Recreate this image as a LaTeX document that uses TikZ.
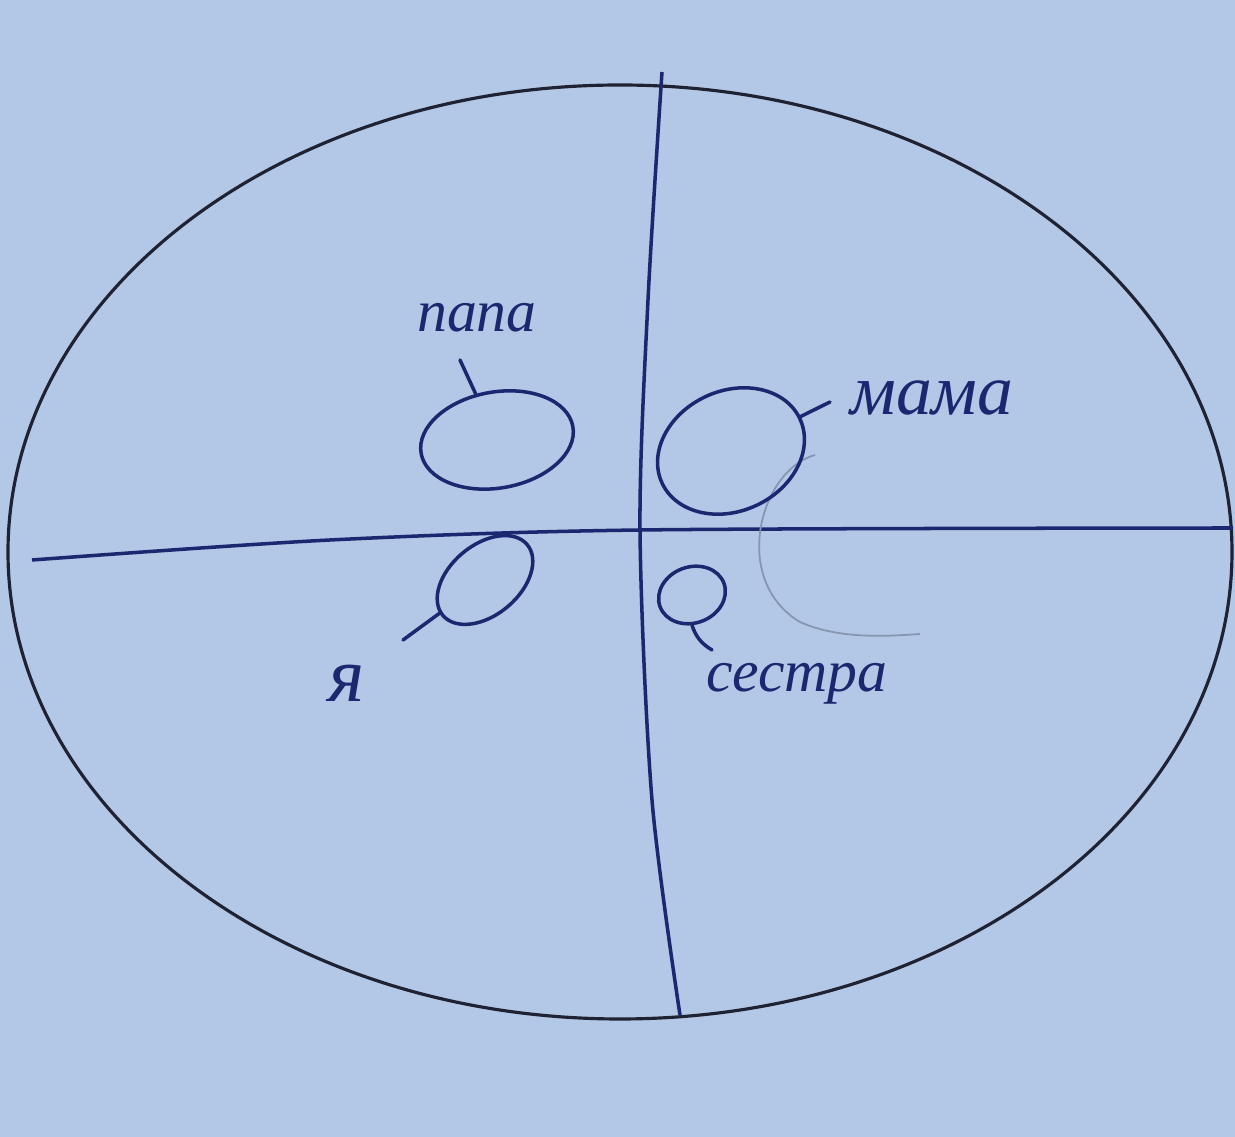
\documentclass[tikz,border=0pt]{standalone}
\usepackage{fontspec}
\setmainfont{Liberation Serif}
\usepackage{xcolor}
\usetikzlibrary{shapes.geometric}
\definecolor{paper}{HTML}{B3C7E6}
\definecolor{ink}{HTML}{1B2870}
\definecolor{pencil}{HTML}{8596B0}
\definecolor{rim}{HTML}{1E2232}
\begin{document}
\begin{tikzpicture}[x=0.01cm,y=-0.01cm,
  ring/.style={draw=ink,line width=1pt,ellipse,inner sep=0pt},
  tick/.style={draw=ink,line width=1pt,line cap=round},
  word/.style={text=ink,font=\itshape\fontsize{17}{19}\selectfont,inner sep=1pt}]
  \useasboundingbox (0,0) rectangle (1235,1137);
  \fill[paper] (0,0) rectangle (1235,1137);
  % the family field
  \draw[rim,line width=0.9pt] (620,552) ellipse [x radius=612,y radius=467];
  \draw[ink,line width=1pt] plot[smooth] coordinates {(662,72) (648,300) (640,530) (652,800) (680,1015)};
  \draw[ink,line width=1pt] plot[smooth] coordinates {(32,560) (330,540) (640,530) (1233,528)};
  % faint pencil trace
  \draw[pencil,line width=0.5pt] (815,455) .. controls (760,470) and (730,580) .. (800,622)
    .. controls (840,640) and (890,636) .. (920,634);
  % members
  \node[ring,minimum width=1.54cm,minimum height=0.96cm,rotate=10] (papa) at (497,440) {};
  \node[ring,minimum width=1.52cm,minimum height=1.2cm,rotate=25] (mama) at (731,451) {};
  \node[ring,minimum width=1.1cm,minimum height=0.7cm,rotate=40] (ya) at (485,580) {};
  \node[ring,minimum width=0.68cm,minimum height=0.56cm,rotate=20] (sestra) at (692,595) {};
  \node[word] (papaL) at (477,318) {папа};
  \node[word,scale=1.2] (mamaL) at (932,398) {мама};
  \node[word,scale=1.3] (yaL) at (347,683) {я};
  \node[word] (sestraL) at (797,684) {сестра};
  \coordinate (papaT) at (460,360);
  \coordinate (mamaT) at (830,402);
  \coordinate (yaT) at (403,640);
  \coordinate (sestraT) at (712,650);
  \draw[tick] (papaT) -- (papa);
  \draw[tick] (mamaT) -- (mama);
  \draw[tick] (yaT) -- (ya);
  \draw[tick] (sestraT) to[bend left=20] (sestra);
\end{tikzpicture}
\end{document}
